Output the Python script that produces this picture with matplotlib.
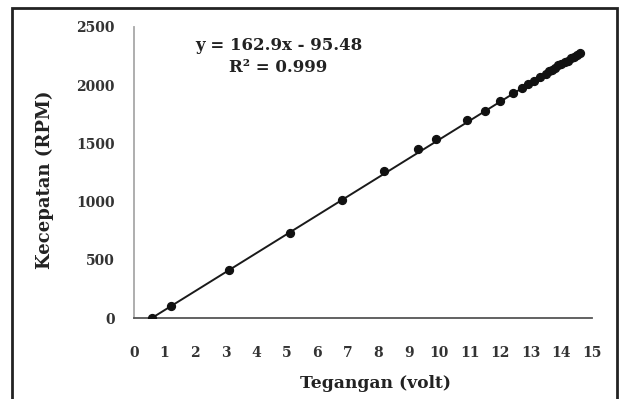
import matplotlib
matplotlib.use("Agg")
import matplotlib.pyplot as plt
import numpy as np
from matplotlib.patches import Rectangle

voltage = [0.6, 1.2, 3.1, 5.1, 6.8, 8.2, 9.3, 9.9, 10.9, 11.5, 12.0, 12.4,
           12.7, 12.9, 13.1, 13.3, 13.5, 13.6, 13.7, 13.8, 13.9, 14.0, 14.1,
           14.2, 14.3, 14.4, 14.5, 14.6]
speed = [0, 100, 410, 730, 1010, 1260, 1450, 1540, 1700, 1780, 1860, 1930,
         1980, 2010, 2040, 2070, 2100, 2120, 2130, 2150, 2170, 2180, 2200,
         2210, 2230, 2240, 2260, 2280]
slope, intercept = 162.9, -95.48
x_ticks = list(range(0, 16))
y_ticks = [0, 500, 1000, 1500, 2000, 2500]

plt.rcParams['font.family'] = ['DejaVu Serif']

W, H = 620, 399
fig = plt.figure(figsize=(W/100, H/100), dpi=100)
ax = fig.add_axes([134/W, 1-318/H, (592-134)/W, (318-27)/H])

fig.patches.append(Rectangle((12/W, -0.05), (617-12)/W, 1-8/H+0.05,
                             transform=fig.transFigure, fill=False,
                             edgecolor='#222222', linewidth=2.0))

xs = np.array([min(voltage), max(voltage)])
ax.plot(xs, slope*xs + intercept, color='#1a1a1a', linewidth=1.4, zorder=2)
ax.scatter(voltage, speed, s=32, color='#111111', zorder=3)

ax.set_xlim(0, 15)
ax.set_ylim(0, 2500)
ax.set_xticks(x_ticks)
ax.set_yticks(y_ticks)
ax.tick_params(length=0, labelsize=10)
ax.tick_params(axis='x', pad=20)
ax.tick_params(axis='y', pad=14)
for lab in ax.get_xticklabels() + ax.get_yticklabels():
    lab.set_fontweight('bold')
    lab.set_color('#333333')

for s in ['top', 'right']:
    ax.spines[s].set_visible(False)
ax.spines['left'].set_color('#a8a8a8')
ax.spines['left'].set_linewidth(1.3)
ax.spines['bottom'].set_color('#555555')
ax.spines['bottom'].set_linewidth(1.3)

ax.set_xlabel('Tegangan (volt)', fontsize=12.3, fontweight='bold', color='#222222')
ax.set_ylabel('Kecepatan (RPM)', fontsize=13, fontweight='bold', color='#222222')
ax.xaxis.set_label_coords((375-134)/458, (318-383)/291)
ax.yaxis.set_label_coords((45-134)/458, (318-180)/291)
ax.xaxis.label.set_va('center')
ax.yaxis.label.set_va('center')

ax.text((279-134)/458, (318-45)/291, 'y = 162.9x - 95.48', transform=ax.transAxes,
        ha='center', va='center', fontsize=12, fontweight='bold', color='#222222')
ax.text((278-134)/458, (318-68)/291, 'R² = 0.999', transform=ax.transAxes,
        ha='center', va='center', fontsize=12, fontweight='bold', color='#222222')

fig.savefig('out.png', dpi=100)
